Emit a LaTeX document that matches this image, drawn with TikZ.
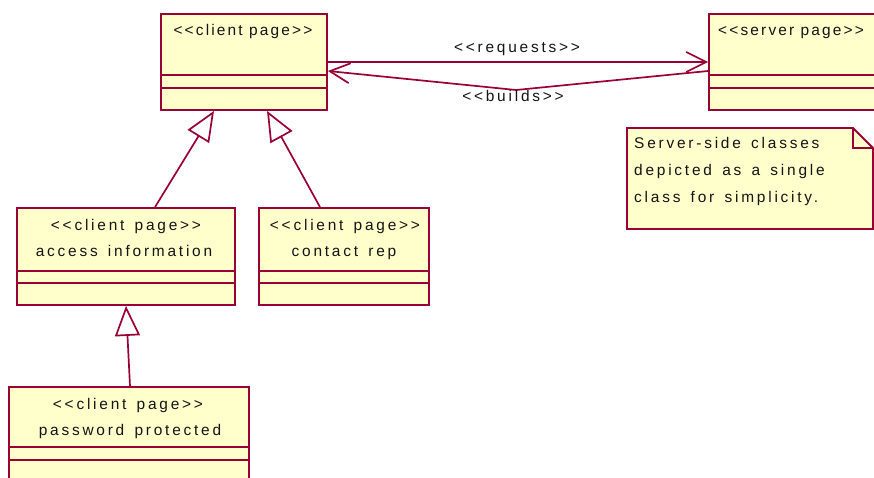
\documentclass[tikz,border=0pt]{standalone}
\usepackage{fontspec}
\usetikzlibrary{arrows.meta}
\newfontfamily\umlfont[LetterSpace=18, WordSpace=1.45]{Liberation Sans}
\newfontfamily\umlheadfont[LetterSpace=14]{Liberation Sans}
\definecolor{umlborder}{RGB}{153,0,51}
\definecolor{umlfill}{RGB}{255,255,204}
\definecolor{umltext}{RGB}{20,20,20}
\tikzset{
  classbox/.style={draw=umlborder, fill=umlfill, line width=1.8bp, inner sep=0pt},
  compart/.style={draw=umlborder, line width=1.8bp},
  umltxt/.style={font=\umlfont\fontsize{15.5pt}{18pt}\selectfont, text=umltext, inner sep=0pt},
  headtxt/.style={font=\umlheadfont\fontsize{15.5pt}{18pt}\selectfont, text=umltext, inner sep=0pt},
  conn/.style={draw=umlborder, line width=1.7bp},
  assoc/.style={conn, -{Straight Barb[length=20bp, width=20bp, line width=1.7bp]}},
  gen/.style={conn, -{Triangle[open, length=30bp, width=25bp, line width=1.7bp, fill=white]}},
}
\begin{document}
\begin{tikzpicture}[x=1bp, y=-1bp]
\useasboundingbox (0,0) rectangle (874,478);
\clip (0,0) rectangle (874,478);

% class boxes
\node[classbox, minimum width=166bp, minimum height=96bp] (client) at (244,62) {};
\node[classbox, minimum width=211bp, minimum height=96bp] (server) at (814.5,62) {};
\node[classbox, minimum width=218bp, minimum height=97bp] (access) at (126,256.5) {};
\node[classbox, minimum width=170bp, minimum height=97bp] (contact) at (344,256.5) {};
\node[classbox, minimum width=240bp, minimum height=133bp] (password) at (129,453.5) {};

% compartment separators
\draw[compart] (client.west |- 0,75) -- (client.east |- 0,75);
\draw[compart] (client.west |- 0,88) -- (client.east |- 0,88);
\draw[compart] (server.west |- 0,75) -- (server.east |- 0,75);
\draw[compart] (server.west |- 0,88) -- (server.east |- 0,88);
\draw[compart] (access.west |- 0,271) -- (access.east |- 0,271);
\draw[compart] (access.west |- 0,283) -- (access.east |- 0,283);
\draw[compart] (contact.west |- 0,271) -- (contact.east |- 0,271);
\draw[compart] (contact.west |- 0,283) -- (contact.east |- 0,283);
\draw[compart] (password.west |- 0,447) -- (password.east |- 0,447);
\draw[compart] (password.west |- 0,460) -- (password.east |- 0,460);

% class names
\node[headtxt, anchor=base] (client-st) at (243,36) {<<client page>>};
\node[headtxt, anchor=base west] (server-st) at (718,36) {<<server page>>};
\node[umltxt, anchor=base] (access-st) at (126,231) {<<client page>>};
\node[umltxt, anchor=base] (access-nm) at (124,257) {access information};
\node[umltxt, anchor=base] (contact-st) at (345,231) {<<client page>>};
\node[umltxt, anchor=base] (contact-nm) at (344,257) {contact rep};
\node[umltxt, anchor=base] (password-st) at (128,409) {<<client page>>};
\node[umltxt, anchor=base] (password-nm) at (130,435) {password protected};

% note
\draw[classbox] (627,128) -- (853,128) -- (873,148) -- (873,229) -- (627,229) -- cycle;
\draw[compart, line join=miter] (853,128) -- (853,148) -- (873,148);
\node[umltxt, anchor=base west] (note1) at (634,149) {Server-side classes};
\node[umltxt, anchor=base west] (note2) at (634,176) {depicted as a single};
\node[umltxt, anchor=base west] (note3) at (634,203) {class for simplicity.};

% associations
\coordinate (bend) at (516,90);
\draw[assoc] (client.east) -- (server.west);
\draw[assoc] ([yshift=-9bp]server.west) -- (bend) -- ([yshift=-9bp]client.east);
\node[umltxt, anchor=base] (req-lbl) at (517,53) {<<requests>>};
\node[umltxt, anchor=base] (bld-lbl) at (513,102) {<<builds>>};

% generalizations
\draw[gen] ([xshift=29bp]access.north) -- ([xshift=-30bp]client.south);
\draw[gen] ([xshift=-24bp]contact.north) -- ([xshift=23bp]client.south);
\draw[gen] ([xshift=1bp]password.north) -- (access.south);
\end{tikzpicture}
\end{document}
